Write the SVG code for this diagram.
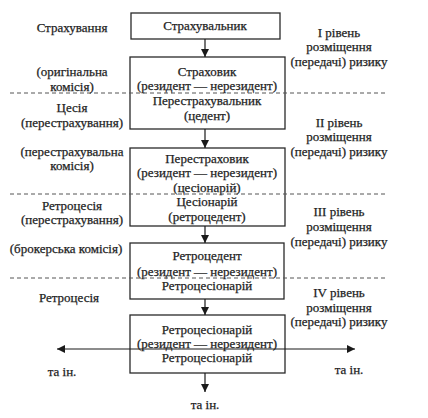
<svg xmlns="http://www.w3.org/2000/svg" width="428" height="418" viewBox="0 0 428 418">
<defs>
<marker id="ah" viewBox="0 0 10 10" refX="10" refY="5" markerWidth="8" markerHeight="8" markerUnits="userSpaceOnUse" orient="auto">
<path d="M0,0 L10,5 L0,10 z" fill="#1a1a1a"/>
</marker>
<style>
text{font-size:13px;fill:#1e1e1e;stroke:#1e1e1e;stroke-width:0.25;text-anchor:middle}
.box{fill:#fff;stroke:#2a2a2a;stroke-width:1.3}
.dash{stroke:#555;stroke-width:1;stroke-dasharray:4,3;fill:none}
.conn{stroke:#1a1a1a;stroke-width:1.2;fill:none;marker-end:url(#ah)}
</style>
</defs>
<rect width="428" height="418" fill="#fff"/>
<g font-family="'Liberation Serif', 'DejaVu Serif', serif">
<g id="n1"><rect class="box" x="131" y="13" width="149" height="26"/><text x="205" y="30">Страхувальник</text></g>
<g id="n2"><rect class="box" x="130" y="57" width="155" height="72"/>
<text x="207" y="76">Страховик</text><text x="207" y="90">(резидент — нерезидент)</text><text x="207" y="105">Перестрахувальник</text><text x="207" y="120">(цедент)</text></g>
<g id="n3"><rect class="box" x="130" y="148" width="155" height="78"/>
<text x="207" y="163">Перестраховик</text><text x="207" y="177">(резидент — нерезидент)</text><text x="207" y="192">(цесіонарій)</text><text x="207" y="206">Цесіонарій</text><text x="207" y="221">(ретроцедент)</text></g>
<g id="n4"><rect class="box" x="130" y="243" width="154" height="56"/>
<text x="207" y="260">Ретроцедент</text><text x="207" y="276">(резидент — нерезидент)</text><text x="207" y="290">Ретроцесіонарій</text></g>
<g id="n5"><rect class="box" x="130" y="315" width="155" height="58"/>
<text x="207" y="334">Ретроцесіонарій</text><text x="207" y="348">(резидент — нерезидент)</text><text x="207" y="362">Ретроцесіонарій</text></g>
<g id="dividers">
<line class="dash" x1="10" y1="93" x2="386" y2="93"/>
<line class="dash" x1="10" y1="194" x2="386" y2="194"/>
<line class="dash" x1="10" y1="278" x2="386" y2="278"/>
</g>
<g id="connectors">
<line class="conn" x1="205" y1="39" x2="205" y2="57"/>
<line class="conn" x1="205" y1="129" x2="205" y2="148"/>
<line class="conn" x1="205" y1="226" x2="205" y2="243"/>
<line class="conn" x1="205" y1="299" x2="205" y2="315"/>
<line class="conn" x1="205" y1="373" x2="205" y2="392"/>
<line class="conn" x1="205" y1="349" x2="57" y2="349"/>
<line class="conn" x1="205" y1="349" x2="355" y2="349"/>
</g>
<g id="left-labels">
<text x="72" y="32">Страхування</text>
<text x="72" y="76">(оригінальна</text><text x="72" y="91">комісія)</text>
<text x="72" y="112">Цесія</text><text x="72" y="127">(перестрахування)</text>
<text x="72" y="156">(перестрахувальна</text><text x="72" y="170">комісія)</text>
<text x="72" y="210">Ретроцесія</text><text x="72" y="224">(перестрахування)</text>
<text x="66" y="253">(брокерська комісія)</text>
<text x="69" y="302">Ретроцесія</text>
<text x="62" y="376">та ін.</text>
<text x="205" y="409">та ін.</text>
<text x="349" y="374">та ін.</text>
</g>
<g id="right-labels">
<text x="339" y="37">І рівень</text><text x="339" y="51">розміщення</text><text x="339" y="66">(передачі) ризику</text>
<text x="339" y="127">ІІ рівень</text><text x="339" y="141">розміщення</text><text x="339" y="156">(передачі) ризику</text>
<text x="339" y="216">ІІІ рівень</text><text x="339" y="231">розміщення</text><text x="339" y="246">(передачі) ризику</text>
<text x="339" y="297">IV рівень</text><text x="339" y="312">розміщення</text><text x="339" y="326">(передачі) ризику</text>
</g>
</g>
</svg>
